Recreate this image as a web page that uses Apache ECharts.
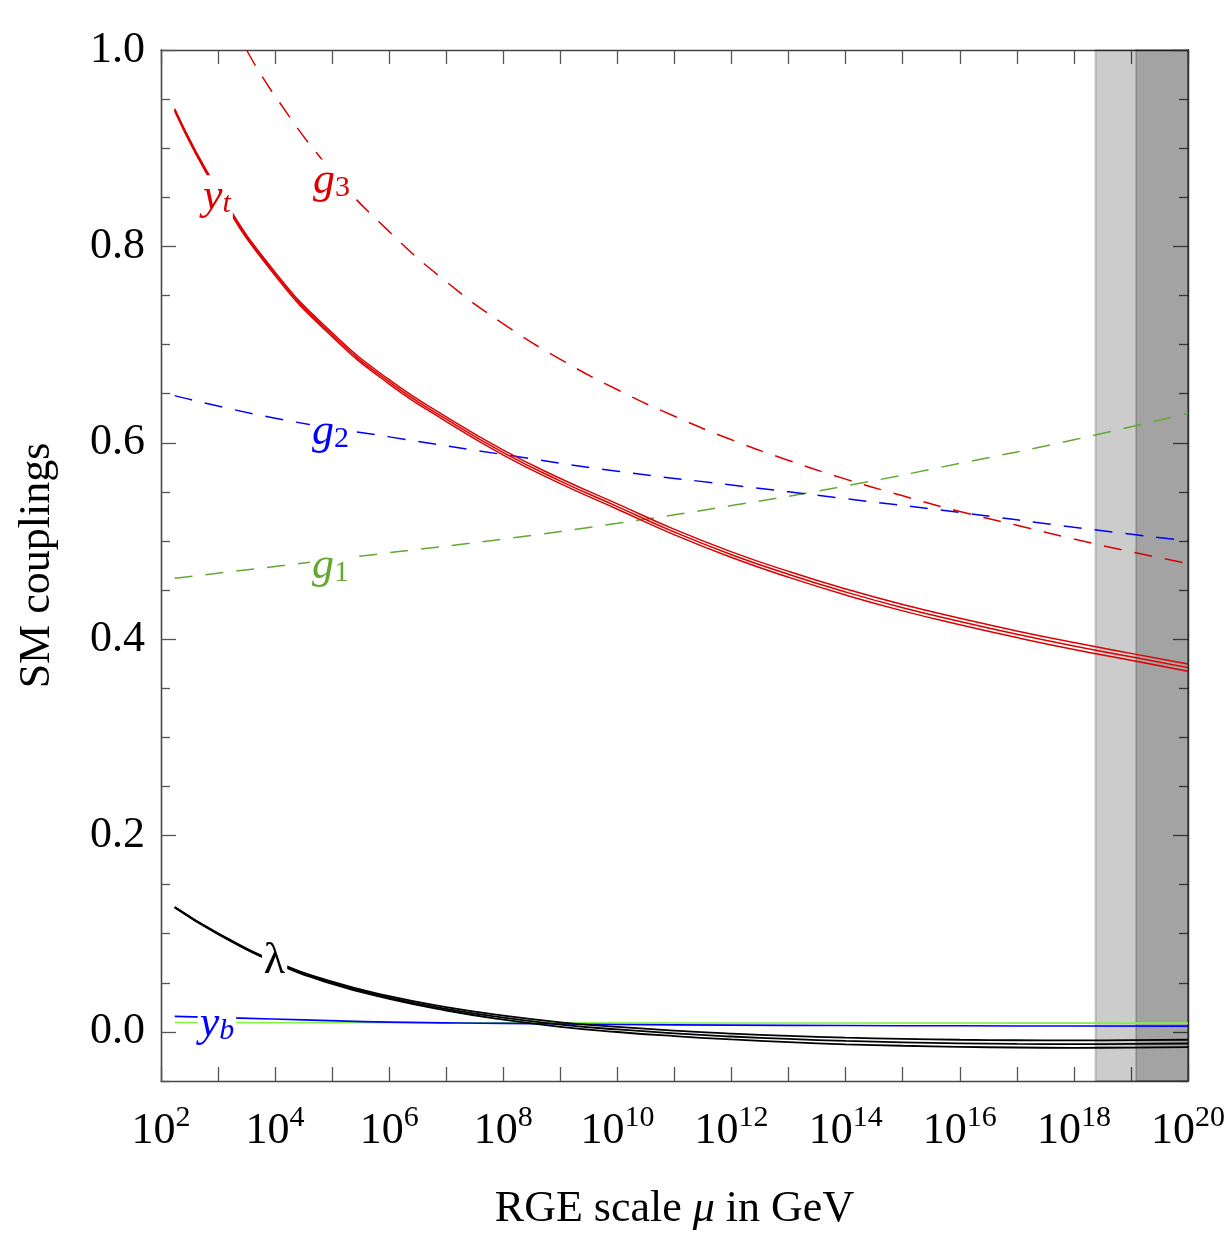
<!DOCTYPE html>
<html><head><meta charset="utf-8">
<script src="https://cdn.jsdelivr.net/npm/echarts@6/dist/echarts.min.js"></script>
<style>html,body{margin:0;padding:0;background:#fff}#c{width:1228px;height:1238px}</style>
</head><body><div id="c"></div>
<script>
const F = 'Liberation Serif';
// x values are log10(mu / GeV)
const ytLog = [2.24, 3, 4, 5, 6, 7, 8, 9, 10, 11, 12, 13, 14, 15, 16, 17, 18, 19, 20];
const ytVal = [0.939, 0.856, 0.772, 0.710, 0.662, 0.624, 0.590, 0.561, 0.535, 0.509, 0.486, 0.466, 0.448, 0.432, 0.418, 0.405, 0.393, 0.382, 0.371];
const ytErr = [0.0012, 0.0015, 0.0018, 0.002, 0.0022, 0.0024, 0.0025, 0.0026, 0.0027, 0.0028, 0.0029, 0.003, 0.0031, 0.0032, 0.0033, 0.0034, 0.0035, 0.0035, 0.0036];
const g3Log = [3.5, 4, 5, 6, 7, 8, 9, 10, 11, 12, 13, 14, 15, 16, 17, 18, 19, 20];
const g3Val = [1.0, 0.953, 0.876, 0.815, 0.764, 0.721, 0.685, 0.654, 0.627, 0.603, 0.582, 0.563, 0.546, 0.530, 0.516, 0.502, 0.489, 0.477];
const g2Log = [2.24, 4, 6, 8, 10, 12, 14, 16, 18, 20];
const g2Val = [0.648, 0.625, 0.606, 0.588, 0.571, 0.557, 0.543, 0.529, 0.514, 0.500];
const g1Log = [2.24, 4, 6, 8, 10, 12, 14, 16, 18, 20];
const g1Val = [0.462, 0.474, 0.488, 0.502, 0.518, 0.536, 0.556, 0.579, 0.603, 0.630];
const lamLog = [2.24, 3, 4, 5, 6, 7, 8, 9, 10, 11, 12, 13, 14, 15, 16, 17, 18, 19, 20];
const lamVal = [0.127, 0.100, 0.071, 0.050, 0.035, 0.0235, 0.0145, 0.0075, 0.0025, -0.0015, -0.0047, -0.0072, -0.0092, -0.0106, -0.0116, -0.0122, -0.0124, -0.0122, -0.0118];
const lamErr = [0.0003, 0.0005, 0.0008, 0.0011, 0.0014, 0.0017, 0.002, 0.0023, 0.0026, 0.0028, 0.003, 0.0032, 0.0034, 0.0035, 0.0036, 0.0037, 0.0038, 0.0038, 0.0038];
const ybLog = [2.24, 3.4, 4.5, 6, 8, 10, 12, 14, 16, 18, 20];
const ybVal = [0.0158, 0.0140, 0.0123, 0.0100, 0.0087, 0.0076, 0.0069, 0.0065, 0.0062, 0.0060, 0.0059];
const ytauLog = [2.24, 8, 14, 20];
const ytauVal = [0.0096, 0.0093, 0.0090, 0.0089];
const planckBands = [[18.38, 20], [19.09, 20]];
const yMajorTicks = [0, 0.2, 0.4, 0.6, 0.8, 1.0];
const yMinorTicks = [-0.05, 0.05, 0.1, 0.15, 0.25, 0.3, 0.35, 0.45, 0.5, 0.55, 0.65, 0.7, 0.75, 0.85, 0.9, 0.95];

const RED = '#dd0000', BLUE = '#0000ff', GREEN = '#62a832', LGREEN = '#7cf53c', BLACK = '#000000';

// curve labels: [text, log10 mu, value, colour]
const curveLabels = [
  ['{i|y}{si|t}', 2.98, 0.850, RED],
  ['{i|g}{sn|3}', 4.99, 0.866, RED],
  ['{i|g}{sn|2}', 4.97, 0.611, BLUE],
  ['{i|g}{sn|1}', 4.97, 0.474, GREEN],
  ['{r|λ}', 3.99, 0.072, BLACK],
  ['{i|y}{si|b}', 2.98, 0.008, BLUE]
];

const pairs = (xs, ys) => xs.map((x, i) => [x, ys[i]]);
const shift = (ys, es, s) => ys.map((y, i) => y + s * es[i]);

function line(name, xs, ys, color, width, type) {
  return {
    name, type: 'line', data: pairs(xs, ys), showSymbol: false, symbol: 'none',
    smooth: 0.5, clip: true, z: 3,
    lineStyle: { color, width, type: type || 'solid' },
    emphasis: { disabled: true }, silent: true
  };
}

const dash = [18, 13];
const series = [
  line('ytau', ytauLog, ytauVal, LGREEN, 1.6),
  line('yb', ybLog, ybVal, BLUE, 1.6),
  line('lam-lo', lamLog, shift(lamVal, lamErr, -1), BLACK, 1.8),
  line('lam', lamLog, lamVal, BLACK, 1.8),
  line('lam-hi', lamLog, shift(lamVal, lamErr, 1), BLACK, 1.8),
  line('g1', g1Log, g1Val, GREEN, 1.5, dash),
  line('g2', g2Log, g2Val, BLUE, 1.5, dash),
  line('g3', g3Log, g3Val, RED, 1.5, dash),
  line('yt-lo', ytLog, shift(ytVal, ytErr, -1), RED, 1.5),
  line('yt', ytLog, ytVal, RED, 1.5),
  line('yt-hi', ytLog, shift(ytVal, ytErr, 1), RED, 1.5),
];

function rich(color) {
  return {
    i: { fontFamily: F, fontStyle: 'italic', fontSize: 44, lineHeight: 44, verticalAlign: 'middle', color },
    r: { fontFamily: F, fontSize: 44, lineHeight: 44, verticalAlign: 'middle', color },
    si: { fontFamily: F, fontStyle: 'italic', fontSize: 30, lineHeight: 22, verticalAlign: 'bottom', color },
    sn: { fontFamily: F, fontSize: 30, lineHeight: 22, verticalAlign: 'bottom', color }
  };
}

series.push({
  name: 'labels', type: 'scatter', symbolSize: 2, itemStyle: { color: 'rgba(255,255,255,0)' }, z: 6, silent: true,
  label: { show: true, position: 'inside', opacity: 1 },
  data: curveLabels.map(l => ({
    value: [l[1], l[2]],
    label: { show: true, position: 'inside', opacity: 1, formatter: l[0], color: l[3], backgroundColor: '#ffffff', padding: [0, 2], rich: rich(l[3]) }
  }))
});

series.push({
  name: 'bands', type: 'line', data: [], z: 8, silent: true,
  markArea: {
    silent: true,
    itemStyle: { color: 'rgba(0,0,0,0.2)', borderColor: 'rgba(0,0,0,0.18)', borderWidth: 2 },
    data: planckBands.map(b => [{ xAxis: b[0] }, { xAxis: b[1] }])
  }
});

const axisLineStyle = { color: '#444', width: 1.3 };
const tickStyle = { color: '#555', width: 1.3 };
const xBase = {
  type: 'value', min: 2, max: 20, interval: 1, splitLine: { show: false },
  axisLine: { show: true, onZero: false, lineStyle: axisLineStyle },
  axisTick: { show: true, inside: true, length: 14, lineStyle: tickStyle }
};
const yBase = {
  type: 'value', min: -0.05, max: 1, splitLine: { show: false },
  axisLine: { show: true, onZero: false, lineStyle: axisLineStyle }
};

const option = {
  animation: false,
  backgroundColor: '#ffffff',
  grid: { left: 161, top: 50, width: 1029, height: 1031 },
  xAxis: [
    Object.assign({}, xBase, {
      position: 'bottom',
      axisLabel: {
        show: true, margin: 22,
        formatter: v => (Math.round(v) % 2 === 0) ? '{b|10}{s|' + Math.round(v) + '}' : '',
        rich: {
          b: { fontFamily: F, fontSize: 44, lineHeight: 50, verticalAlign: 'bottom', color: '#000' },
          s: { fontFamily: F, fontSize: 30, lineHeight: 26, verticalAlign: 'top', color: '#000' }
        }
      },
      name: '{n|RGE scale }{m|μ}{n| in GeV}', nameLocation: 'middle', nameGap: 106,
      nameTextStyle: {
        rich: {
          n: { fontFamily: F, fontSize: 44, color: '#000' },
          m: { fontFamily: F, fontSize: 44, fontStyle: 'italic', color: '#000' }
        }
      }
    }),
    Object.assign({}, xBase, { position: 'top', axisLabel: { show: false } })
  ],
  yAxis: [
    Object.assign({}, yBase, {
      position: 'left',
      axisTick: { show: true, inside: true, length: 15, customValues: yMajorTicks, lineStyle: tickStyle },
      axisLabel: { show: true, customValues: yMajorTicks, formatter: v => v.toFixed(1), margin: 16, fontSize: 44, fontFamily: F, color: '#000' },
      name: 'SM couplings', nameLocation: 'middle', nameRotate: 90, nameGap: 102,
      nameTextStyle: { fontFamily: F, fontSize: 44, color: '#000' }
    }),
    Object.assign({}, yBase, {
      position: 'left',
      axisTick: { show: true, inside: true, length: 9, customValues: yMinorTicks, lineStyle: tickStyle },
      axisLabel: { show: false }
    }),
    Object.assign({}, yBase, {
      position: 'right',
      axisTick: { show: true, inside: true, length: 15, customValues: yMajorTicks, lineStyle: tickStyle },
      axisLabel: { show: false }
    }),
    Object.assign({}, yBase, {
      position: 'right',
      axisTick: { show: true, inside: true, length: 9, customValues: yMinorTicks, lineStyle: tickStyle },
      axisLabel: { show: false }
    })
  ],
  series
};

const chart = echarts.init(document.getElementById('c'), null, { renderer: 'canvas' });
chart.setOption(option);
</script>
</body></html>
